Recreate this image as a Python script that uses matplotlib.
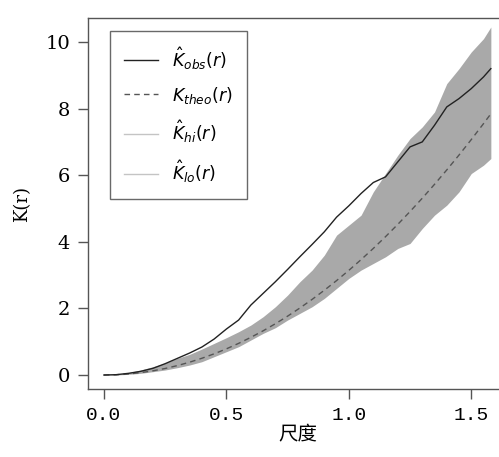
import matplotlib
matplotlib.use("Agg")
import matplotlib.pyplot as plt
from matplotlib.lines import Line2D

r = [0.00, 0.05, 0.10, 0.15, 0.20, 0.25, 0.30, 0.35, 0.40, 0.45, 0.50, 0.55,
     0.60, 0.65, 0.70, 0.75, 0.80, 0.85, 0.90, 0.95, 1.00, 1.05, 1.10, 1.15,
     1.20, 1.25, 1.30, 1.35, 1.40, 1.45, 1.50, 1.55, 1.58]
k_obs = [0.00, 0.01, 0.05, 0.11, 0.20, 0.34, 0.50, 0.66, 0.84, 1.08, 1.38, 1.65,
         2.10, 2.45, 2.80, 3.17, 3.55, 3.92, 4.30, 4.74, 5.08, 5.45, 5.78, 5.95,
         6.40, 6.85, 7.00, 7.50, 8.05, 8.30, 8.60, 8.95, 9.20]
k_theo = [0.000, 0.008, 0.031, 0.071, 0.126, 0.196, 0.283, 0.385, 0.503, 0.636,
          0.785, 0.950, 1.131, 1.327, 1.539, 1.767, 2.011, 2.270, 2.545, 2.835,
          3.142, 3.464, 3.801, 4.155, 4.524, 4.909, 5.309, 5.726, 6.158, 6.605,
          7.069, 7.548, 7.843]
k_hi = [0.00, 0.02, 0.07, 0.15, 0.25, 0.36, 0.50, 0.62, 0.78, 0.95, 1.12, 1.30,
        1.50, 1.75, 2.05, 2.40, 2.80, 3.15, 3.60, 4.20, 4.50, 4.80, 5.50, 6.05,
        6.60, 7.10, 7.45, 7.90, 8.75, 9.20, 9.70, 10.10, 10.45]
k_lo = [0.00, 0.00, 0.02, 0.05, 0.10, 0.15, 0.22, 0.30, 0.40, 0.55, 0.70, 0.85,
        1.05, 1.25, 1.42, 1.65, 1.85, 2.05, 2.30, 2.60, 2.90, 3.15, 3.35, 3.55,
        3.80, 3.95, 4.40, 4.80, 5.10, 5.50, 6.05, 6.30, 6.50]

xticks = [0.0, 0.5, 1.0, 1.5]
xticklabels = ["0.0", "0.5", "1.0", "1.5"]
yticks = [0, 2, 4, 6, 8, 10]
yticklabels = ["0", "2", "4", "6", "8", "10"]

W, H = 499, 457
fig = plt.figure(figsize=(W / 100, H / 100), dpi=100)
ax = fig.add_axes([88 / W, 68 / H, 420 / W, 371 / H])

ax.fill_between(r, k_lo, k_hi, color="#a9a9a9", linewidth=0, zorder=1)
ax.plot(r, k_theo, color="#555555", lw=1.0, ls=(0, (4, 3)), zorder=2)
ax.plot(r, k_obs, color="#222222", lw=1.0, zorder=3)

ax.set_xlim(-0.065, 1.65)
ax.set_ylim(-0.42, 10.72)

for s in ax.spines.values():
    s.set_color("#555555")
    s.set_linewidth(1.0)

ax.set_xticks(xticks)
ax.set_xticklabels(xticklabels, fontfamily="Liberation Mono", fontsize=14)
ax.set_yticks(yticks)
ax.set_yticklabels(yticklabels, fontfamily="DejaVu Serif", fontsize=14)
ax.tick_params(direction="out", length=7, width=1.0, color="#555555", pad=6)

ax.set_xlabel("尺度", fontfamily=["Noto Sans CJK SC", "DejaVu Sans"], fontsize=14, labelpad=0)
ax.set_ylabel("K(r)", fontfamily="DejaVu Serif", fontsize=13, labelpad=10)

handles = [
    Line2D([], [], color="#222222", lw=1.0),
    Line2D([], [], color="#555555", lw=1.0, ls=(0, (4, 3))),
    Line2D([], [], color="#c4c4c4", lw=1.0),
    Line2D([], [], color="#c4c4c4", lw=1.0),
]
labels = [r"$\hat{K}_{obs}(r)$", r"$K_{theo}(r)$", r"$\hat{K}_{hi}(r)$", r"$\hat{K}_{lo}(r)$"]
leg = ax.legend(handles, labels, loc="upper left", bbox_to_anchor=(0.052, 0.965),
                fontsize=12.5, frameon=True, fancybox=False, edgecolor="#444444",
                labelspacing=0.75, handlelength=2.0, borderpad=0.8, handletextpad=0.8,
                borderaxespad=0)
leg.get_frame().set_linewidth(1.0)

fig.savefig("out.png", dpi=100)
